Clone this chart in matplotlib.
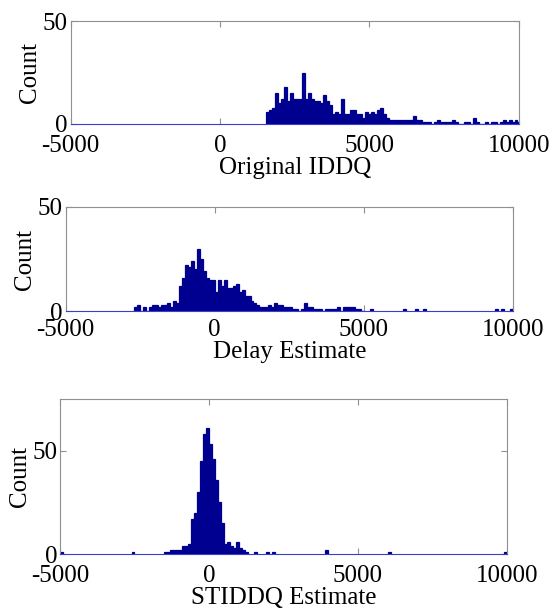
import numpy as np
import matplotlib
matplotlib.use('Agg')
import matplotlib.pyplot as plt

# Histogramas (largura de bin = 100), bordas esquerdas e contagens
# ---------------------------------------------------------------
# Original IDDQ
iddq_edges = np.arange(1550, 10000, 100)
iddq_counts = [6, 7, 8, 15, 10, 12, 18, 11, 15, 12,
               12, 12, 25, 12, 15, 12, 11, 11, 10, 14,
               11, 9, 5, 6, 5, 12, 5, 5, 7, 7,
               5, 5, 3, 6, 5, 6, 5, 7, 8, 5,
               3, 2, 2, 2, 2, 2, 2, 2, 2, 4,
               2, 2, 1, 1, 1, 0, 1, 2, 1, 1,
               1, 1, 2, 1, 0, 0, 1, 1, 0, 3,
               1, 0, 0, 1, 0, 1, 1, 0, 1, 2,
               1, 2, 1, 2, 1]

# Delay Estimate
delay_edges = np.arange(-2700, 5000, 100)
delay_counts = [2, 3, 0, 2, 0, 2, 3, 3, 2, 3,
                3, 4, 2, 5, 4, 12, 16, 22, 21, 24,
                20, 30, 25, 19, 16, 15, 15, 9, 15, 12,
                15, 11, 11, 12, 13, 9, 10, 7, 7, 5,
                4, 3, 2, 2, 2, 3, 2, 4, 3, 3,
                2, 2, 2, 1, 1, 0, 1, 4, 2, 2,
                1, 1, 1, 0, 1, 1, 1, 1, 2, 0,
                2, 2, 2, 2, 1, 1, 0]
delay_tail_edges = [5200, 6300, 6700, 7000, 9400, 9600, 9900]
delay_tail_counts = [1, 1, 1, 1, 1, 1, 1]

# STIDDQ Estimate
stiddq_edges = np.arange(-1500, 1300, 100)
stiddq_counts = [1, 1, 2, 2, 2, 2, 4, 4, 5, 17,
                 20, 30, 45, 58, 61, 53, 46, 36, 25, 15,
                 5, 6, 4, 3, 6, 3, 2, 1]
stiddq_tail_edges = [-5000, -2600, 1500, 1900, 2100, 3900, 6000, 9900]
stiddq_tail_counts = [1, 1, 1, 1, 1, 2, 1, 1]

xticks = [-5000, 0, 5000, 10000]
xlabels = ['Original IDDQ', 'Delay Estimate', 'STIDDQ Estimate']

bar_color = '#000090'
frame_color = '#909090'
base_color = '#3c3cd0'

plt.rcParams['font.family'] = ['Liberation Serif', 'DejaVu Serif']
plt.rcParams['axes.unicode_minus'] = False

fig = plt.figure(figsize=(5.53, 6.09), dpi=100)

# posicoes dos tres eixos (fracao da figura)
ax1 = fig.add_axes([0.1275, 0.7964, 0.811, 0.1691])
ax2 = fig.add_axes([0.1186, 0.4893, 0.809, 0.1708])
ax3 = fig.add_axes([0.1085, 0.0903, 0.8083, 0.2545])

dados = [
    (ax1, iddq_edges, iddq_counts, 50, 8),
    (ax2, np.concatenate([delay_edges, delay_tail_edges]),
     list(delay_counts) + delay_tail_counts, 50, 6),
    (ax3, np.concatenate([stiddq_edges, stiddq_tail_edges]),
     list(stiddq_counts) + stiddq_tail_counts, 75, 8),
]

for i, (ax, edges, counts, ytop, xpad) in enumerate(dados):
    ax.bar(edges, counts, width=100, align='edge', color=bar_color,
           edgecolor=bar_color, linewidth=0.9, zorder=2)
    ax.set_xlim(-5000, 10000)
    ax.set_ylim(0, ytop)
    ax.set_xticks(xticks)
    ax.set_yticks([0, 50])
    ax.tick_params(direction='in', top=True, right=True, length=4,
                   color=frame_color, labelsize=18)
    ax.tick_params(axis='x', pad=xpad)
    ax.tick_params(axis='y', pad=2)
    for s in ax.spines.values():
        s.set_color(frame_color)
        s.set_linewidth(0.8)
    ax.spines['bottom'].set_color(base_color)
    ax.set_xlabel(xlabels[i], fontsize=18, labelpad=0)
    ax.set_ylabel('Count', fontsize=18, labelpad=1)

fig.savefig('out.png', dpi=100)
